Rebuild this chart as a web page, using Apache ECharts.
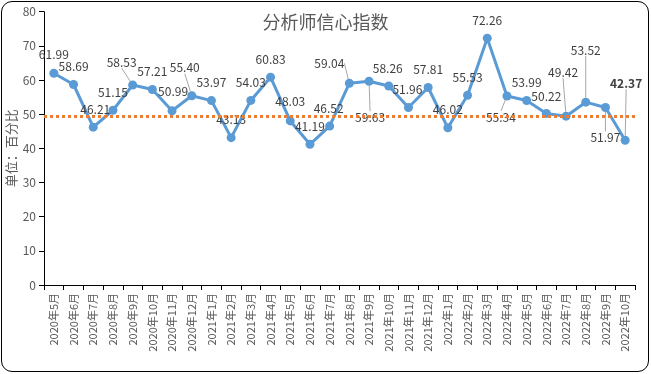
<!DOCTYPE html>
<html>
<head>
<meta charset="utf-8">
<script src="https://cdn.jsdelivr.net/npm/echarts@6/dist/echarts.min.js"></script>
<style>
html,body{margin:0;padding:0;background:#fff;}
#wrap{position:relative;width:651px;height:374px;}
#chart{position:absolute;left:0;top:0;width:651px;height:374px;}
#frame{position:absolute;left:1px;top:1px;width:646px;height:369px;border:1.5px solid #000;border-radius:11px;pointer-events:none;}
</style>
</head>
<body>
<div id="wrap"><div id="chart"></div><div id="frame"></div></div>
<script>
var categories = ['2020年5月','2020年6月','2020年7月','2020年8月','2020年9月','2020年10月','2020年11月','2020年12月',
  '2021年1月','2021年2月','2021年3月','2021年4月','2021年5月','2021年6月','2021年7月','2021年8月','2021年9月','2021年10月','2021年11月','2021年12月',
  '2022年1月','2022年2月','2022年3月','2022年4月','2022年5月','2022年6月','2022年7月','2022年8月','2022年9月','2022年10月'];
var confidence = [61.99,58.69,46.21,51.15,58.53,57.21,50.99,55.40,53.97,43.13,54.03,60.83,48.03,41.19,46.52,59.04,59.63,58.26,51.96,57.81,46.02,55.53,72.26,55.34,53.99,50.22,49.42,53.52,51.97,42.37];
var referenceLevel = 49.5;
var yTicks = [0,10,20,30,40,50,60,70,80];

// label placement (layout only)
var labelOffsets = [[0,-19],[0,-18],[2,-18],[0,-18],[-11,-23],[0,-18],[1,-19],[-7,-28],[0,-18],[0,-18],
  [0,-18],[0,-18],[0,-19],[0,-18],[-1,-18],[-20,-20],[1,36],[-1,-18],[-1,-18],[0,-18],
  [0,-18],[0,-18],[0,-18],[-6,21],[0,-18],[0,-17],[-3,-44],[0,-52],[0,30],[1,-57]];
var leaderIdx = [4,7,15,16,23,26,27,28,29];

var chart = echarts.init(document.getElementById('chart'));
var seriesData = confidence.map(function(v,i){
  var item = {value:v};
  if (leaderIdx.indexOf(i) >= 0) item.labelLine = {show:true};
  if (i === confidence.length-1) item.label = {fontWeight:'bold'};
  return item;
});
var option = {
  animation:false,
  textStyle:{fontFamily:'"Noto Sans CJK SC","Noto Sans",sans-serif'},
  title:{text:'分析师信心指数',left:'center',top:8,textStyle:{fontSize:18,fontWeight:'normal',color:'#595959'}},
  grid:{left:44,right:16,top:11.7,bottom:89,containLabel:false,outerBoundsMode:'none'},
  xAxis:{type:'category',data:categories,boundaryGap:true,
    axisLine:{lineStyle:{color:'#000',width:1}},
    axisTick:{show:true,alignWithLabel:false,length:5,lineStyle:{color:'#000'}},
    axisLabel:{rotate:90,fontSize:11,color:'#595959',margin:8,interval:0}},
  yAxis:{type:'value',min:yTicks[0],max:yTicks[yTicks.length-1],interval:10,
    name:'单位：百分比',nameLocation:'middle',nameGap:26,nameMoveOverlap:false,nameTextStyle:{fontSize:13,color:'#595959'},
    splitLine:{show:false},
    axisLine:{show:true,lineStyle:{color:'#000',width:1}},
    axisTick:{show:true,length:5,lineStyle:{color:'#000'}},
    axisLabel:{fontSize:12,color:'#595959',margin:8}},
  series:[{
    type:'line',data:seriesData,
    symbol:'circle',symbolSize:9,
    lineStyle:{color:'#5B9BD5',width:3},
    itemStyle:{color:'#5B9BD5'},
    label:{show:true,position:'inside',fontSize:12,color:'#404040',formatter:function(p){return p.value.toFixed(2);}},
    labelLine:{show:false,lineStyle:{color:'#a6a6a6',width:1}},
    labelLayout:function(p){var o=labelOffsets[p.dataIndex];return {dx:o[0],dy:o[1]};},
    markLine:{silent:true,symbol:'none',label:{show:false},
      lineStyle:{color:'#ED7D31',width:3,type:[3,3]},
      data:[{yAxis:referenceLevel}]},
    z:3
  }]
};
chart.setOption(option);
</script>
</body>
</html>
